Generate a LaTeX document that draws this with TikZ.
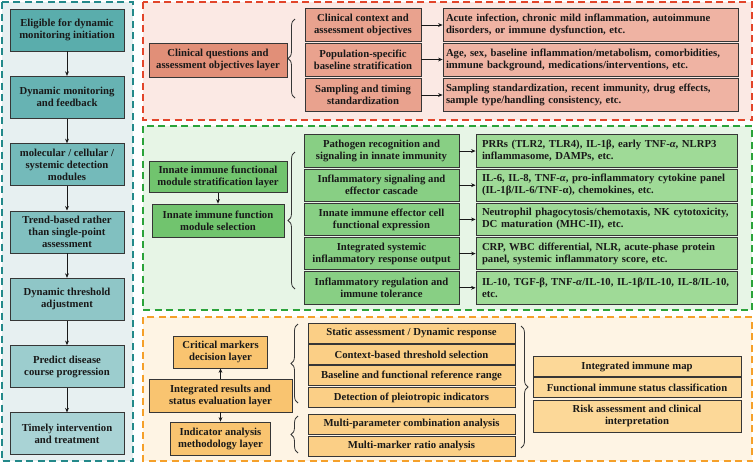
\documentclass[tikz,border=0pt]{standalone}
\usepackage{fontspec}
\setmainfont{Liberation Serif}
\usepackage{tikz}
\usetikzlibrary{arrows.meta, positioning, decorations.pathreplacing}
\tikzset{>={Stealth[length=4.5pt,width=3.8pt]}}

% section colours
\definecolor{tealdash}{HTML}{23898A}
\definecolor{tealbg}{HTML}{E7F0F1}
\definecolor{tealA}{HTML}{5AADAC}
\definecolor{tealB}{HTML}{A9D3D5}
\definecolor{reddash}{HTML}{E2452A}
\definecolor{redbg}{HTML}{FBE9E4}
\definecolor{redA}{HTML}{E18F78}
\definecolor{redB}{HTML}{E9A28E}
\definecolor{redC}{HTML}{EFB3A3}
\definecolor{greendash}{HTML}{2BA33A}
\definecolor{greenbg}{HTML}{E7F5E6}
\definecolor{greenA}{HTML}{71C46E}
\definecolor{greenB}{HTML}{88CF84}
\definecolor{greenC}{HTML}{9FDA97}
\definecolor{orangedash}{HTML}{F5A02A}
\definecolor{orangebg}{HTML}{FEF4E4}
\definecolor{orangeA}{HTML}{F9C470}
\definecolor{orangeB}{HTML}{FBCF86}
\definecolor{orangeC}{HTML}{FCD898}
\definecolor{boxline}{HTML}{363636}

\tikzset{
  panel/.style={line width=1.8pt, dash pattern=on 7pt off 4.5pt},
  box/.style={draw=boxline, line width=0.8pt, align=center, inner sep=2pt,
    text=black!90, font=\bfseries\fontsize{10.7}{12}\selectfont},
  flowbox/.style={box, minimum width=114pt, minimum height=42pt},
  redlist/.style={box, fill=redC, align=left, inner xsep=3pt, text width=289pt, minimum height=33pt},
  greenlist/.style={box, fill=greenC, align=left, inner xsep=6pt, text width=249pt, minimum height=32.5pt},
  link/.style={->, line width=0.7pt, draw=black!90},
  brace/.style={decorate, decoration={brace, amplitude=7pt}, line width=0.8pt, draw=boxline},
}

\begin{document}
\begin{tikzpicture}[x=1pt, y=-1pt]
\useasboundingbox (0,0) rectangle (756,464);

% monitoring workflow column
\draw[panel, draw=tealdash, fill=tealbg] (2,2) rectangle (133,461);
\node[flowbox, fill=tealB!0!tealA] (elig) at (67,30) {Eligible for dynamic\\monitoring initiation};
\node[flowbox, fill=tealB!17!tealA, below=24.5pt of elig] (feed) {Dynamic monitoring\\and feedback};
\node[flowbox, fill=tealB!33!tealA, below=24.5pt of feed] (detect) {molecular / cellular /\\systemic detection\\modules};
\node[flowbox, fill=tealB!50!tealA, below=24.5pt of detect] (trend) {Trend-based rather\\than single-point\\assessment};
\node[flowbox, fill=tealB!67!tealA, below=24.5pt of trend] (thresh) {Dynamic threshold\\adjustment};
\node[flowbox, fill=tealB!83!tealA, below=24.5pt of thresh] (predict) {Predict disease\\course progression};
\node[flowbox, fill=tealB!100!tealA, below=24.5pt of predict] (treat) {Timely intervention\\and treatment};
\draw[link] (elig) -- (feed);
\draw[link] (feed) -- (detect);
\draw[link] (detect) -- (trend);
\draw[link] (trend) -- (thresh);
\draw[link] (thresh) -- (predict);
\draw[link] (predict) -- (treat);

% clinical questions layer
\draw[panel, draw=reddash, fill=redbg] (143,2) rectangle (752,120);
\node[box, fill=redA, minimum width=138pt, minimum height=34pt] (clinq) at (218,60) {Clinical questions and\\assessment objectives layer};
\node[box, fill=redB, minimum width=116pt, minimum height=33pt] (ctx) at (363,25) {Clinical context and\\assessment objectives};
\node[box, fill=redB, minimum width=116pt, minimum height=33pt] (popbase) at (363,59.5) {Population-specific\\baseline stratification};
\node[box, fill=redB, minimum width=116pt, minimum height=33pt] (samp) at (363,95) {Sampling and timing\\standardization};
\node[redlist] (ctxlist) at (590.5,25) {Acute infection, chronic mild inflammation, autoimmune\\disorders, or immune dysfunction, etc.};
\node[redlist] (poplist) at (590.5,59.5) {Age, sex, baseline inflammation/metabolism, comorbidities,\\immune background, medications/interventions, etc.};
\node[redlist] (samplist) at (590.5,95) {Sampling standardization, recent immunity, drug effects,\\sample type/handling consistency, etc.};
\draw[brace] (295,98) -- (295,19);
\draw[link] (ctx) -- (ctxlist);
\draw[link] (popbase) -- (poplist);
\draw[link] (samp) -- (samplist);

% innate immune module layer
\draw[panel, draw=greendash, fill=greenbg] (143,126) rectangle (752,310);
\node[box, fill=greenA, minimum width=138pt, minimum height=31pt] (innstrat) at (218,177) {Innate immune functional\\module stratification layer};
\node[box, fill=greenA, minimum width=132pt, minimum height=33pt] (innsel) at (218,220.5) {Innate immune function\\module selection};
\draw[link] (innstrat) -- (innsel);
\draw[brace] (295,289) -- (295,152);
\node[box, fill=greenB, minimum width=155pt, minimum height=32.5pt] (prr) at (381.5,151) {Pathogen recognition and\\signaling in innate immunity};
\node[box, fill=greenB, minimum width=155pt, minimum height=32.5pt] (cascade) at (381.5,185.2) {Inflammatory signaling and\\effector cascade};
\node[box, fill=greenB, minimum width=155pt, minimum height=32.5pt] (effector) at (381.5,219.4) {Innate immune effector cell\\functional expression};
\node[box, fill=greenB, minimum width=155pt, minimum height=32.5pt] (systemic) at (381.5,253.6) {Integrated systemic\\inflammatory response output};
\node[box, fill=greenB, minimum width=155pt, minimum height=32.5pt] (regul) at (381.5,287.8) {Inflammatory regulation and\\immune tolerance};
\node[greenlist] (prrlist) at (606.5,151) {PRRs (TLR2, TLR4), IL-1β, early TNF-\textit{α}, NLRP3\\inflammasome, DAMPs, etc.};
\node[greenlist] (cascadelist) at (606.5,185.2) {IL-6, IL-8, TNF-\textit{α}, pro-inflammatory cytokine panel\\(IL-1β/IL-6/TNF-α), chemokines, etc.};
\node[greenlist] (effectorlist) at (606.5,219.4) {Neutrophil phagocytosis/chemotaxis, NK cytotoxicity,\\DC maturation (MHC-II), etc.};
\node[greenlist] (systemiclist) at (606.5,253.6) {CRP, WBC differential, NLR, acute-phase protein\\panel, systemic inflammatory score, etc.};
\node[greenlist] (regullist) at (606.5,287.8) {IL-10, TGF-β, TNF-\textit{α}/IL-10, IL-1β/IL-10, IL-8/IL-10,\\etc.};
\draw[link] (prr) -- (prrlist);
\draw[link] (cascade) -- (cascadelist);
\draw[link] (effector) -- (effectorlist);
\draw[link] (systemic) -- (systemiclist);
\draw[link] (regul) -- (regullist);

% evaluation and decision layers
\draw[panel, draw=orangedash, fill=orangebg] (143,317) rectangle (752,461);
\node[box, fill=orangeA, minimum width=94pt, minimum height=32pt] (crit) at (220.5,352) {Critical markers\\decision layer};
\node[box, fill=orangeA, minimum width=143pt, minimum height=33pt] (integ) at (220.5,395.5) {Integrated results and\\status evaluation layer};
\node[box, fill=orangeA, minimum width=100pt, minimum height=33pt] (indic) at (220.5,438.5) {Indicator analysis\\methodology layer};
\draw[link] (integ) -- (crit);
\draw[link] (integ) -- (indic);
\draw[brace] (298,403) -- (298,324);
\draw[brace] (298,453) -- (298,416);
\node[box, fill=orangeB, minimum width=207pt, minimum height=20pt] (static) at (411.5,333) {Static assessment / Dynamic response};
\node[box, fill=orangeB, minimum width=207pt, minimum height=20pt] (ctxsel) at (411.5,354.5) {Context-based threshold selection};
\node[box, fill=orangeB, minimum width=207pt, minimum height=20pt] (refrange) at (411.5,375.5) {Baseline and functional reference range};
\node[box, fill=orangeB, minimum width=207pt, minimum height=20pt] (pleio) at (411.5,397.5) {Detection of pleiotropic indicators};
\node[box, fill=orangeB, minimum width=207pt, minimum height=20pt] (multipar) at (411.5,424) {Multi-parameter combination analysis};
\node[box, fill=orangeB, minimum width=207pt, minimum height=20pt] (ratio) at (411.5,446) {Multi-marker ratio analysis};
\draw[brace] (521,326) -- (521,448);
\node[box, fill=orangeC, minimum width=208pt, minimum height=20pt] (immap) at (637,366.5) {Integrated immune map};
\node[box, fill=orangeC, minimum width=208pt, minimum height=20pt] (status) at (637,387.5) {Functional immune status classification};
\node[box, fill=orangeC, minimum width=208pt, minimum height=32pt] (risk) at (637,416) {Risk assessment and clinical\\interpretation};
\end{tikzpicture}
\end{document}
